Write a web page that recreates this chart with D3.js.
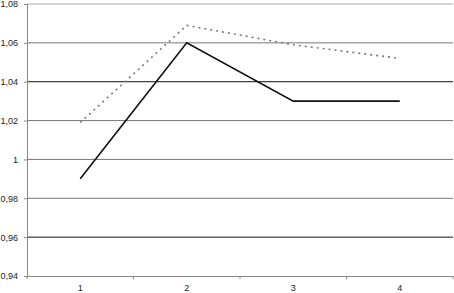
<!DOCTYPE html>
<html>
<head>
<meta charset="utf-8">
<script src="https://cdn.jsdelivr.net/npm/d3@7"></script>
<style>
  body { margin: 0; background: #fff; }
  text { font-family: "Liberation Sans", Arial, sans-serif; font-size: 9px; fill: #222; }
</style>
</head>
<body>
<svg id="chart" width="454" height="293"></svg>
<script>
let categories = ["1", "2", "3", "4"];
let solidValues = [0.99, 1.06, 1.03, 1.03];
let dottedValues = [1.019, 1.069, 1.059, 1.052];
let yTicks = [0.94, 0.96, 0.98, 1, 1.02, 1.04, 1.06, 1.08];

let svg = d3.select("#chart");

let plotLeft = 27, plotRight = 453, plotTop = 4, plotBottom = 276;

let xScale = d3.scaleBand()
               .domain(categories)
               .range([plotLeft, plotRight]);

let yScale = d3.scaleLinear()
               .domain([0.94, 1.08])
               .range([plotBottom, plotTop]);

let fmt = d => d3.format(".2~f")(d).replace(".", ",");

// gridlines
let gridColor = d => {
  let k = Math.round((d - 0.94) / 0.02);
  return (k === 1 || k === 5) ? "#111" : (k === 7 ? "#aaa" : "#777");
};
svg.append("g")
   .selectAll("line")
   .data(yTicks.filter(d => d > 0.94))
   .enter()
   .append("line")
   .attr("x1", plotLeft)
   .attr("x2", plotRight)
   .attr("y1", d => yScale(d))
   .attr("y2", d => yScale(d))
   .attr("stroke", gridColor)
   .attr("stroke-width", 1);

// Axes:
let yAxis = d3.axisLeft(yScale)
              .tickValues(yTicks)
              .tickFormat(fmt)
              .tickSize(3)
              .tickPadding(6);

let yG = svg.append("g")
            .attr("transform", `translate(${plotLeft}, 0)`)
            .call(yAxis);
yG.select(".domain").attr("stroke", "#888");
yG.selectAll(".tick line").attr("stroke", "#888");
yG.selectAll("text").style("font-size", "9px").attr("fill", "#222");

let xAxis = d3.axisBottom(xScale).tickSize(0).tickPadding(9);
let xG = svg.append("g")
            .attr("transform", `translate(0, ${plotBottom})`)
            .call(xAxis);
xG.select(".domain").attr("stroke", "#888");
xG.selectAll("text").style("font-size", "9px").attr("fill", "#222");

// category boundary ticks
let bounds = categories.map(c => xScale(c)).concat([xScale.range()[1]]);
xG.selectAll(".bound")
  .data(bounds)
  .enter()
  .append("line")
  .attr("x1", d => d)
  .attr("x2", d => d)
  .attr("y1", 0)
  .attr("y2", 3)
  .attr("stroke", "#888");

let lineGen = d3.line()
                .x((d, i) => xScale(categories[i]) + xScale.bandwidth() / 2)
                .y(d => yScale(d));

svg.append("path")
   .datum(dottedValues)
   .attr("d", lineGen)
   .attr("fill", "none")
   .attr("stroke", "#777")
   .attr("stroke-width", 1.6)
   .attr("stroke-dasharray", "2,4");

svg.append("path")
   .datum(solidValues)
   .attr("d", lineGen)
   .attr("fill", "none")
   .attr("stroke", "#111")
   .attr("stroke-width", 1.6);
</script>
</body>
</html>
